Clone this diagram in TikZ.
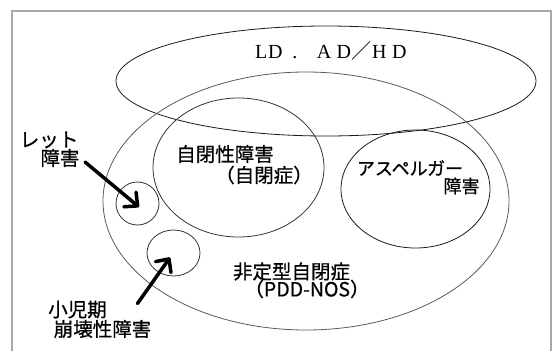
\documentclass[tikz,border=0pt]{standalone}
\usepackage{fontspec}
\newfontfamily\jp{Noto Sans CJK JP}[FakeBold=0.7]
\newfontfamily\ser{Liberation Serif}
\usetikzlibrary{arrows.meta,shapes.geometric}
\definecolor{framegray}{HTML}{A8A8A8}
\definecolor{lineA}{HTML}{1A1A1A}
\definecolor{lineB}{HTML}{5A5A5A}
\definecolor{lineC}{HTML}{333333}
\begin{document}
\begin{tikzpicture}[x=1pt,y=-1pt,
  ov/.style={draw, shape=ellipse, line width=0.8pt, inner sep=0pt},
  lbl/.style={font=\jp\fontsize{19.5}{20}\selectfont, inner sep=0pt},
  lbls/.style={font=\jp\fontsize{18}{18}\selectfont, inner sep=0pt},
  arr/.style={line width=3.5pt, line cap=round, -{Straight Barb[length=10pt,width=19pt,line cap=round,line join=round]}}]
\useasboundingbox (0,0) rectangle (552,351);
\begin{scope}
\clip (0,0) rectangle (552,351);
\draw[framegray, line width=1.3pt] (12,11) rectangle (551,400);
\end{scope}
% ellipses
\node[ov, draw=lineA, minimum width=420pt, minimum height=110pt] (ldad) at (326,81) {};
\node[ov, draw=lineB, minimum width=406pt, minimum height=258pt] (pdd) at (306,201) {};
\node[ov, draw=lineC, minimum width=171pt, minimum height=139pt] (aut) at (238.5,167.5) {};
\node[ov, draw=lineA, minimum width=149pt, minimum height=118pt] (asp) at (415.5,189) {};
\node[ov, draw=lineC, minimum width=43pt, minimum height=43pt] (rett) at (137.5,203.5) {};
\node[ov, draw=lineC, minimum width=53pt, minimum height=46pt] (cdd) at (173.5,253) {};
% LD AD/HD
\node[anchor=base west, inner sep=0pt, font=\ser\fontsize{20}{20}\selectfont] (ldt) at (255,58.3)
 {L\kern0.8pt D\kern9.6pt.\kern19.7pt A\kern5.3pt D\kern0.5pt{\fontspec{Noto Sans CJK JP}／}\kern0.5pt H\kern5.6pt D};
% labels
\node[lbl] (t1) at (225,154) {自閉性障害};
\node[lbl] (t2) at (264,175) {（自閉症）};
\node[lbls] (t3) at (410,168) {アスペルガー};
\node[lbls] (t4) at (461.5,186) {障害};
\node[lbl] (t5) at (291.5,271.5) {非定型自閉症};
\node[lbl] (t6) at (307,289) {（PDD-NOS）};
\node[lbl] (t7) at (49,140) {レット};
\node[lbl] (t8) at (60,158) {障害};
\node[lbl] (t9) at (77.5,309.5) {小児期};
\node[lbl] (t10) at (102.5,329) {崩壊性障害};
% arrows
\coordinate (rs) at (85,162);
\coordinate (rtip) at (139,207);
\coordinate (cs) at (137.5,303.5);
\coordinate (ctip) at (170,257.5);
\draw[arr] (rs) -- (rtip);
\draw[arr] (cs) -- (ctip);
\end{tikzpicture}
\end{document}
